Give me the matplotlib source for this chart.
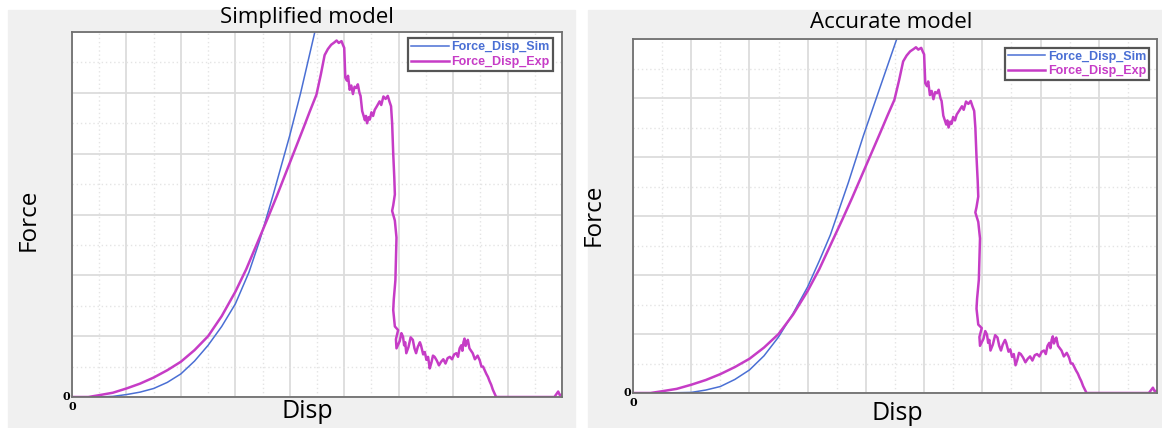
import matplotlib
matplotlib.use("Agg")
import matplotlib.pyplot as plt
from matplotlib.patches import Rectangle

# experimental curve (shared by both panels), in grid units
exp_disp = [0, 0.3, 0.5, 0.75, 1.0, 1.25, 1.5, 1.75, 2.0, 2.25, 2.5, 2.75, 3.0, 3.2, 3.45,
            3.6, 3.76, 3.9, 4.0, 4.12, 4.25, 4.37, 4.49, 4.57, 4.64, 4.7, 4.76, 4.82, 4.86,
            4.9, 4.95, 4.98, 5.0,
            5.01, 5.02, 5.05, 5.07, 5.1, 5.13, 5.16, 5.19, 5.22, 5.25, 5.28, 5.3, 5.33, 5.35,
            5.38, 5.4, 5.42, 5.45, 5.47, 5.5, 5.53, 5.56, 5.6, 5.65, 5.68, 5.72, 5.76, 5.8,
            5.83, 5.86, 5.88, 5.9, 5.92, 5.93, 5.9, 5.88, 5.93, 5.96, 5.95, 5.94, 5.91, 5.9,
            5.93, 5.99, 5.95, 5.96, 6.02, 6.05, 6.08, 6.1, 6.12, 6.14, 6.18, 6.22, 6.26, 6.29,
            6.32, 6.35, 6.39, 6.41, 6.45, 6.48, 6.51, 6.54, 6.57, 6.6, 6.63, 6.66, 6.7, 6.74,
            6.78, 6.82, 6.86, 6.9, 6.94, 6.98, 7.02, 7.06, 7.09, 7.12, 7.15, 7.17, 7.19, 7.21,
            7.23, 7.25, 7.27, 7.3, 7.33, 7.36, 7.4, 7.45, 7.49, 7.52, 7.55, 7.58, 7.61, 7.64,
            7.67, 7.7, 7.73, 7.76, 7.79, 8.86, 8.9, 8.93, 8.96, 9.0]
exp_force = [0, 0, 0.03, 0.07, 0.14, 0.22, 0.32, 0.44, 0.58, 0.77, 1.0, 1.33, 1.73, 2.1, 2.63,
             2.95, 3.3, 3.62, 3.85, 4.12, 4.42, 4.7, 4.97, 5.3, 5.62, 5.72, 5.79, 5.83, 5.86,
             5.82, 5.85, 5.78, 5.74,
             5.5, 5.25, 5.2, 5.28, 5.05, 5.12, 4.98, 5.1, 5.08, 5.14, 5.0, 4.95, 4.7, 4.64,
             4.55, 4.62, 4.5, 4.6, 4.56, 4.68, 4.62, 4.72, 4.78, 4.86, 4.8, 4.94, 4.9, 4.95,
             4.86, 4.78, 4.5, 4.0, 3.6, 3.33, 3.15, 3.06, 2.9, 2.62, 2.3, 1.92, 1.6, 1.43,
             1.16, 1.1, 0.95, 0.8, 0.92, 1.05, 0.99, 0.85, 0.9, 0.72, 0.82, 0.98, 0.94, 0.8,
             0.72, 0.82, 0.9, 0.85, 0.7, 0.74, 0.61, 0.66, 0.47, 0.56, 0.68, 0.66, 0.6, 0.52,
             0.58, 0.62, 0.55, 0.64, 0.66, 0.62, 0.7, 0.72, 0.66, 0.8, 0.85, 0.76, 0.9, 0.96,
             0.84, 0.9, 0.94, 0.8, 0.76, 0.72, 0.62, 0.68, 0.6, 0.5, 0.5, 0.44, 0.38, 0.33,
             0.26, 0.2, 0.12, 0.06, 0.0, 0.0, 0.05, 0.09, 0.03, 0.04]

# simulation curves
sim_disp_simpl = [0, 0.5, 0.75, 1.0, 1.25, 1.5, 1.75, 2.0, 2.25, 2.5, 2.75, 3.0, 3.25, 3.45,
                  3.7, 4.0, 4.2, 4.46, 4.6]
sim_force_simpl = [0, 0, 0.01, 0.04, 0.08, 0.14, 0.24, 0.38, 0.59, 0.85, 1.16, 1.53, 2.05,
                   2.58, 3.34, 4.3, 5.0, 6.0, 6.5]
sim_disp_acc = [0, 0.5, 1.0, 1.25, 1.5, 1.75, 2.0, 2.25, 2.5, 2.75, 3.0, 3.2, 3.39, 3.7,
                3.96, 4.25, 4.53, 4.6]
sim_force_acc = [0, 0, 0.01, 0.05, 0.11, 0.23, 0.39, 0.63, 0.95, 1.35, 1.80, 2.24, 2.68,
                 3.57, 4.37, 5.2, 6.0, 6.2]

titles = ["Simplified model", "Accurate model"]

BLUE = "#4a6fd4"
MAGENTA = "#c63cc6"

fig = plt.figure(figsize=(11.62, 4.28), dpi=100)
fig.patches.append(Rectangle((8 / 1162, 0), 567 / 1162, 418 / 428,
                             transform=fig.transFigure, color="#f0f0f0", zorder=-10))
fig.patches.append(Rectangle((588 / 1162, 0), 574 / 1162, 418 / 428,
                             transform=fig.transFigure, color="#f0f0f0", zorder=-10))


def panel(rect, sim_x, sim_y, title, title_xy, force_xy, disp_xy, leg_anchor, zero_y_dx):
    ax = fig.add_axes(rect)
    ax.set_facecolor("white")
    ax.set_xlim(0, 9)
    ax.set_ylim(0, 6)
    ax.set_xticks(range(10))
    ax.set_yticks(range(7))
    ax.set_xticks([i + 0.5 for i in range(9)], minor=True)
    ax.set_yticks([i + 0.5 for i in range(6)], minor=True)
    ax.grid(which="major", color="#dcdcdc", lw=1.3)
    ax.grid(which="minor", color="#e4e4e4", lw=1.0, ls=(0, (1, 2)))
    ax.set_axisbelow(True)
    ax.tick_params(which="both", length=0, labelleft=False, labelbottom=False)
    for s in ax.spines.values():
        s.set_color("#707070")
        s.set_linewidth(1.3)
    ax.plot(sim_x, sim_y, color=BLUE, lw=1.1, label="Force_Disp_Sim")
    ax.plot(exp_disp, exp_force, color=MAGENTA, lw=1.8, label="Force_Disp_Exp")
    leg = ax.legend(loc="upper right", bbox_to_anchor=leg_anchor, fancybox=False,
                    framealpha=1, edgecolor="#555555", handlelength=3.0,
                    borderpad=0.25, labelspacing=0.2, handletextpad=0.2,
                    prop={"family": "Liberation Sans", "size": 9, "weight": "bold"})
    leg.get_frame().set_linewidth(1.6)
    for txt, col in zip(leg.get_texts(), [BLUE, MAGENTA]):
        txt.set_color(col)
    # the "0" labels at the origin
    ax.text(zero_y_dx, 0.0, "0", transform=ax.transAxes, ha="right", va="center",
            fontsize=8, fontweight="bold", family="DejaVu Serif")
    ax.text(0.0, -0.012, "0", transform=ax.transAxes, ha="center", va="top",
            fontsize=8, fontweight="bold", family="DejaVu Serif")
    fig.text(title_xy[0] / 1162, 1 - title_xy[1] / 428, title, ha="center", va="center",
             fontsize=16, family="Open Sans")
    fig.text(force_xy[0] / 1162, 1 - force_xy[1] / 428, "Force", ha="center", va="center",
             rotation=90, fontsize=17.5, family="Open Sans")
    fig.text(disp_xy[0] / 1162, 1 - disp_xy[1] / 428, "Disp", ha="center", va="center",
             fontsize=18, family="Open Sans")
    return ax


panel([72 / 1162, 31 / 428, 490 / 1162, 365 / 428], sim_disp_simpl, sim_force_simpl,
      titles[0], (307, 18), (29, 220), (307, 412), (0.994, 1.0), -0.004)
panel([633 / 1162, 35 / 428, 524 / 1162, 354 / 428], sim_disp_acc, sim_force_acc,
      titles[1], (891, 23), (594, 215), (897, 414), (0.997, 0.993), -0.004)

fig.savefig("out.png", dpi=100)
